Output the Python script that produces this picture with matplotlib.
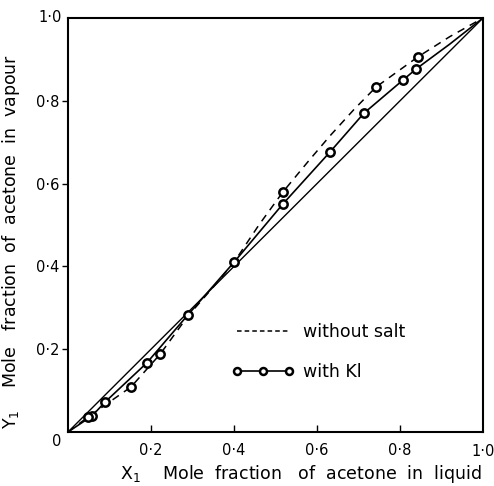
from matplotlib import pyplot as plt
from matplotlib.lines import Line2D

x_ki = [0.058, 0.089, 0.19, 0.289, 0.40, 0.518, 0.631, 0.713, 0.807, 0.839]
y_ki = [0.039, 0.072, 0.167, 0.283, 0.41, 0.551, 0.676, 0.77, 0.85, 0.877]
x_ns = [0.048, 0.152, 0.222, 0.518, 0.742, 0.843]
y_ns = [0.036, 0.109, 0.188, 0.58, 0.833, 0.906]

# curves
cx_ki = [0, 0.058, 0.089, 0.19, 0.289, 0.40, 0.518, 0.631, 0.713, 0.807, 0.839, 0.92, 1.0]
cy_ki = [0, 0.039, 0.072, 0.167, 0.283, 0.41, 0.551, 0.676, 0.77, 0.85, 0.877, 0.937, 1.0]
cx_ns = [0, 0.048, 0.152, 0.222, 0.289, 0.35, 0.40, 0.46, 0.518, 0.58, 0.631, 0.69, 0.742, 0.843, 0.92, 1.0]
cy_ns = [0, 0.036, 0.109, 0.188, 0.28, 0.35, 0.41, 0.50, 0.58, 0.655, 0.715, 0.78, 0.833, 0.906, 0.955, 1.0]

ticks = [0.2, 0.4, 0.6, 0.8]
tick_labels = ['0·2', '0·4', '0·6', '0·8']

plt.rcParams['font.family'] = ['DejaVu Sans']

fig = plt.figure(figsize=(4.94, 4.86), dpi=100)
ax = fig.add_axes([68 / 494, 54 / 486, 415 / 494, 414 / 486])
ax.set_xlim(0, 1)
ax.set_ylim(0, 1)

ax.plot([0, 1], [0, 1], color='black', lw=1.0)
ax.plot(cx_ns, cy_ns, color='black', lw=1.1, ls=(0, (5, 4)))
ax.plot(cx_ki, cy_ki, color='black', lw=1.2)
ax.plot(x_ki, y_ki, ls='none', marker='o', ms=6, mfc='white', mec='black', mew=1.8)
ax.plot(x_ns, y_ns, ls='none', marker='o', ms=6, mfc='white', mec='black', mew=1.8)

for s in ax.spines.values():
    s.set_linewidth(1.5)

ax.set_xticks(ticks)
ax.set_xticklabels(tick_labels, fontsize=10.5)
ax.set_yticks(ticks)
ax.set_yticklabels(tick_labels, fontsize=10.5)
ax.tick_params(axis='x', direction='in', length=5, width=1, pad=8)
ax.tick_params(axis='y', direction='out', length=4, width=1, pad=2)

ax.text(-0.015, 1.0, '1·0', ha='right', va='center', fontsize=10.5, transform=ax.transAxes)
ax.text(-0.015, -0.005, '0', ha='right', va='top', fontsize=10.5, transform=ax.transAxes)
ax.text(1.0, -0.03, '1·0', ha='center', va='top', fontsize=10.5, transform=ax.transAxes)

ax.set_xlabel('X$_1$    Mole  fraction   of  acetone  in  liquid', fontsize=12.5)
ax.set_ylabel('Y$_1$    Mole   fraction  of  acetone  in  vapour', fontsize=12.5)
ax.xaxis.set_label_coords(0.56, -0.075)
ax.yaxis.set_label_coords(-0.11, 0.46)

handles = [
    Line2D([], [], color='black', lw=1.1, ls=(0, (3, 2))),
    Line2D([], [], color='black', lw=1.2, marker='o', ms=5, mfc='white', mec='black', mew=1.8),
]
ax.legend(handles, ['without salt', 'with Kl'], loc='upper left',
          bbox_to_anchor=(0.358, 0.30), frameon=False, fontsize=12.5,
          numpoints=3, handlelength=3.6, handletextpad=0.5, labelspacing=1.25)

fig.savefig('out.png', dpi=100)
